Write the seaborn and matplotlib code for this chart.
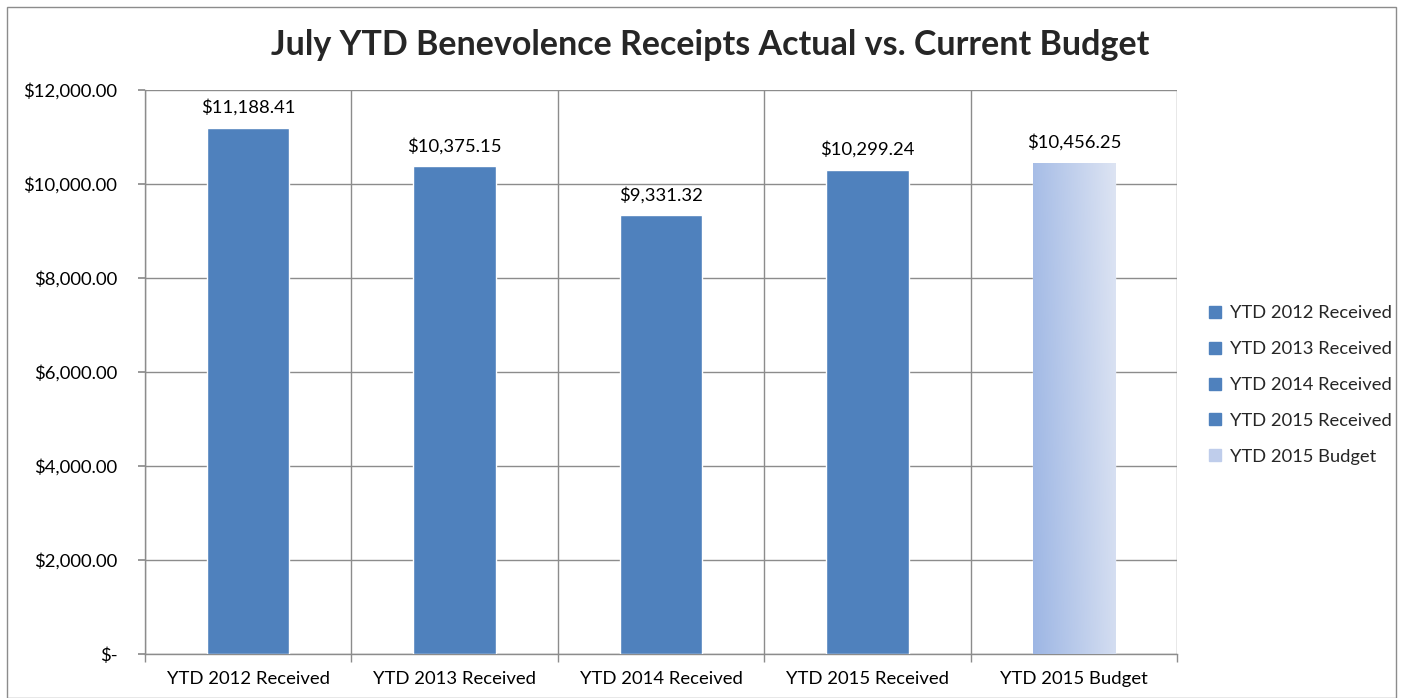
import numpy as np
import pandas as pd
import matplotlib.pyplot as plt
import seaborn as sns
from matplotlib.patches import Rectangle
from matplotlib.lines import Line2D
from matplotlib.colors import LinearSegmentedColormap

# 数据
categories = ['YTD 2012 Received', 'YTD 2013 Received', 'YTD 2014 Received',
              'YTD 2015 Received', 'YTD 2015 Budget']
values = [11188.41, 10375.15, 9331.32, 10299.24, 10456.25]
yticks = [0, 2000, 4000, 6000, 8000, 10000, 12000]

sns.set_theme(style='white')
plt.rcParams['font.family'] = ['Lato', 'DejaVu Sans']

blue = '#4F81BD'
grid_c = '#8C8C8C'

df = pd.DataFrame({'cat': categories, 'val': values})

fig = plt.figure(figsize=(14.03, 6.98), dpi=100)
ax = fig.add_axes([145 / 1403, 1 - 654 / 698, (1177 - 145) / 1403, (654 - 90) / 698])

sns.barplot(data=df, x='cat', y='val', color=blue, width=0.4, saturation=1,
            ax=ax, zorder=3)

# 最后一根柱子用渐变色
bar = ax.patches[-1]
bar.set_facecolor('none')
bx, by = bar.get_x(), bar.get_y()
bw, bh = bar.get_width(), bar.get_height()
cmap = LinearSegmentedColormap.from_list('bud', ['#9DB6E4', '#DDE4F3'])
gx = np.linspace(0, 1, 200)
gy = np.linspace(0, 1, 100)
G = gx[None, :] * 0.85 + gy[:, None] * 0.15
im = ax.imshow(G, cmap=cmap, aspect='auto', origin='lower',
               extent=(bx, bx + bw, by, by + bh), zorder=3)
im.set_clip_path(bar)

ax.set_xlim(-0.5, len(categories) - 0.5)
ax.set_ylim(0, 12000)
ax.set_yticks(yticks)
ax.set_yticklabels(['$-' if v == 0 else '${:,.2f}'.format(v) for v in yticks])
ax.set_xlabel('')
ax.set_ylabel('')

# 网格线
for v in yticks:
    ax.axhline(v, color=grid_c, lw=1, zorder=1)
for b in np.arange(-0.5, len(categories), 1):
    ax.axvline(b, color=grid_c, lw=1, zorder=1)

ax.set_xticks(np.arange(-0.5, len(categories), 1), minor=True)
ax.tick_params(axis='x', which='major', length=0, labelsize=13.3, pad=12, colors='black')
ax.tick_params(axis='x', which='minor', length=6, color=grid_c, direction='out', bottom=True)
ax.tick_params(axis='y', length=5, color=grid_c, direction='out', left=True,
               labelsize=13.3, pad=15, colors='black')
for s in ['top', 'right']:
    ax.spines[s].set_visible(False)
for s in ['left', 'bottom']:
    ax.spines[s].set_color(grid_c)
    ax.spines[s].set_linewidth(1)

# 数据标签
for i, v in enumerate(values):
    ax.text(i, v + 260, '${:,.2f}'.format(v), ha='center', va='bottom',
            fontsize=13.3, color='black', zorder=4)

# 标题
fig.text(0.506, 0.935, 'July YTD Benevolence Receipts Actual vs. Current Budget',
         ha='center', va='center', fontsize=24.5, fontweight='bold')

# 图例
handles = []
for c in categories[:-1]:
    handles.append(Line2D([], [], marker='s', ls='', markersize=9,
                          markerfacecolor=blue, markeredgecolor=blue))
handles.append(Line2D([], [], marker='s', ls='', markersize=9,
                      markerfacecolor='#BFCDEB', markeredgecolor='#BFCDEB'))
fig.legend(handles, categories, loc='center left', bbox_to_anchor=(1197 / 1403, 1 - 385 / 698),
           frameon=False, fontsize=13.2, handletextpad=0.3, labelspacing=1.08,
           handlelength=1.0, borderpad=0)

# 外框
fig.patches.append(Rectangle((7 / 1403, 0), 1 - 14 / 1403, 1 - 7 / 698,
                             transform=fig.transFigure, fill=False,
                             edgecolor='#8C8C8C', lw=1))

fig.savefig('out.png', dpi=100)
